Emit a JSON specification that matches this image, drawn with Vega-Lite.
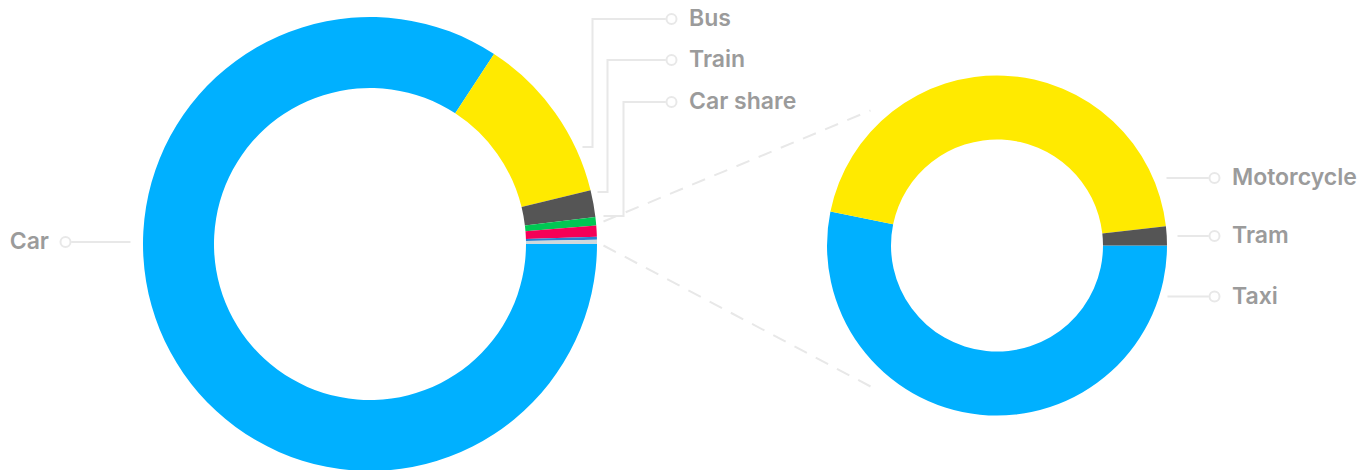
{
  "$schema": "https://vega.github.io/schema/vega-lite/v6.json",
  "padding": 0,
  "autosize": {"type": "pad"},
  "bounds": "flush",
  "spacing": 0,
  "background": "white",
  "config": {
    "view": {"stroke": null},
    "legend": {
      "padding": 0,
      "symbolSize": 4,
      "symbolStrokeWidth": 2,
      "symbolStrokeColor": "#e8e8e8",
      "symbolFillColor": "transparent",
      "symbolOpacity": 1,
      "labelFont": "Inter",
      "labelFontSize": 23,
      "labelFontWeight": 600,
      "labelColor": "#9b9b9b",
      "labelOffset": 6,
      "labelLimit": 400
    }
  },
  "datasets": {
    "main": [
      {"mode": "Car", "share": 84.2, "rank": 1},
      {"mode": "Bus", "share": 12.0, "rank": 2},
      {"mode": "Train", "share": 1.9, "rank": 3},
      {"mode": "Car share", "share": 0.6, "rank": 4},
      {"mode": "Other 1", "share": 0.8, "rank": 5},
      {"mode": "Other 2", "share": 0.2, "rank": 6},
      {"mode": "Other 3", "share": 0.3, "rank": 7}
    ],
    "detail": [
      {"mode": "Taxi", "share": 53.2, "rank": 1},
      {"mode": "Motorcycle", "share": 45.0, "rank": 2},
      {"mode": "Tram", "share": 1.8, "rank": 3}
    ]
  },
  "hconcat": [
    {
      "width": 740,
      "height": 488,
      "data": {"name": "main"},
      "layer": [
        {
          "mark": {"type": "arc", "outerRadius": 227, "innerRadius": 156},
          "encoding": {
            "theta": {"field": "share", "type": "quantitative", "stack": true, "scale": {"range": [1.5708, 7.8540]}},
            "order": {"field": "rank", "type": "quantitative"},
            "color": {
              "field": "mode", "type": "nominal", "legend": null,
              "scale": {
                "domain": ["Car", "Bus", "Train", "Car share", "Other 1", "Other 2", "Other 3"],
                "range": ["#00B0FF", "#FFEA00", "#555555", "#00C853", "#F50057", "#2A7FD0", "#CFD8DC"]
              }
            }
          }
        },
        {
          "transform": [{"filter": "datum.mode === 'Bus'"}],
          "mark": {"type": "point", "opacity": 0, "size": 4, "color": "#e8e8e8", "strokeWidth": 2},
          "encoding": {
            "shape": {"field": "mode", "type": "nominal",
              "scale": {"range": ["M5,0A5,5,0,1,1,-5,0A5,5,0,1,1,5,0M-6,0H-79V128H-89"]},
              "legend": {"title": null, "orient": "none", "legendX": 660, "legendY": 7.5}}
          }
        },
        {
          "transform": [{"filter": "datum.mode === 'Train'"}],
          "mark": {"type": "point", "opacity": 0, "size": 4, "color": "#e8e8e8", "strokeWidth": 2},
          "encoding": {
            "shape": {"field": "mode", "type": "nominal",
              "scale": {"range": ["M5,0A5,5,0,1,1,-5,0A5,5,0,1,1,5,0M-6,0H-64V132H-74"]},
              "legend": {"title": null, "orient": "none", "legendX": 660, "legendY": 48.5}}
          }
        },
        {
          "transform": [{"filter": "datum.mode === 'Car share'"}],
          "mark": {"type": "point", "opacity": 0, "size": 4, "color": "#e8e8e8", "strokeWidth": 2},
          "encoding": {
            "shape": {"field": "mode", "type": "nominal",
              "scale": {"range": ["M5,0A5,5,0,1,1,-5,0A5,5,0,1,1,5,0M-6,0H-48V114H-68"]},
              "legend": {"title": null, "orient": "none", "legendX": 660, "legendY": 90.5}}
          }
        },
        {
          "transform": [{"filter": "datum.mode === 'Car'"}],
          "mark": {"type": "point", "opacity": 0, "size": 4, "color": "#e8e8e8", "strokeWidth": 2},
          "encoding": {
            "shape": {"field": "mode", "type": "nominal",
              "scale": {"range": ["M5,0A5,5,0,1,1,-5,0A5,5,0,1,1,5,0M6,0H65"]},
              "legend": {"title": null, "orient": "none", "legendX": 54, "legendY": 230.5, "labelAlign": "right", "labelOffset": -28}}
          }
        },
        {
          "transform": [{"filter": "datum.mode === 'Other 3'"}],
          "mark": {"type": "point", "opacity": 0, "size": 4, "color": "#e8e8e8", "strokeWidth": 2, "strokeDash": [14, 10]},
          "encoding": {
            "shape": {"field": "mode", "type": "nominal",
              "scale": {"range": ["M0,-12L267,-123M0,12L267,153"]},
              "legend": {"title": null, "orient": "none", "legendX": 592, "legendY": 222, "symbolDash": [14, 10], "labelExpr": "''", "labelOpacity": 0}}
          }
        }
      ],
      "resolve": {"scale": {"shape": "independent"}, "legend": {"shape": "independent"}}
    },
    {
      "width": 514,
      "height": 491,
      "data": {"name": "detail"},
      "layer": [
        {
          "mark": {"type": "arc", "outerRadius": 170, "innerRadius": 106},
          "encoding": {
            "theta": {"field": "share", "type": "quantitative", "stack": true, "scale": {"range": [1.5708, 7.8540]}},
            "order": {"field": "rank", "type": "quantitative"},
            "color": {
              "field": "mode", "type": "nominal", "legend": null,
              "scale": {"domain": ["Taxi", "Motorcycle", "Tram"], "range": ["#00B0FF", "#FFEA00", "#555555"]}
            }
          }
        },
        {
          "transform": [{"filter": "datum.mode === 'Motorcycle'"}],
          "mark": {"type": "point", "opacity": 0, "size": 4, "color": "#e8e8e8", "strokeWidth": 2},
          "encoding": {
            "shape": {"field": "mode", "type": "nominal",
              "scale": {"range": ["M5,0A5,5,0,1,1,-5,0A5,5,0,1,1,5,0M-6,0H-48"]},
              "legend": {"title": null, "orient": "none", "legendX": 463, "legendY": 166.5}}
          }
        },
        {
          "transform": [{"filter": "datum.mode === 'Tram'"}],
          "mark": {"type": "point", "opacity": 0, "size": 4, "color": "#e8e8e8", "strokeWidth": 2},
          "encoding": {
            "shape": {"field": "mode", "type": "nominal",
              "scale": {"range": ["M5,0A5,5,0,1,1,-5,0A5,5,0,1,1,5,0M-6,0H-37"]},
              "legend": {"title": null, "orient": "none", "legendX": 463, "legendY": 224.5}}
          }
        },
        {
          "transform": [{"filter": "datum.mode === 'Taxi'"}],
          "mark": {"type": "point", "opacity": 0, "size": 4, "color": "#e8e8e8", "strokeWidth": 2},
          "encoding": {
            "shape": {"field": "mode", "type": "nominal",
              "scale": {"range": ["M5,0A5,5,0,1,1,-5,0A5,5,0,1,1,5,0M-6,0H-47"]},
              "legend": {"title": null, "orient": "none", "legendX": 463, "legendY": 285}}
          }
        }
      ],
      "resolve": {"scale": {"shape": "independent"}, "legend": {"shape": "independent"}}
    }
  ]
}
